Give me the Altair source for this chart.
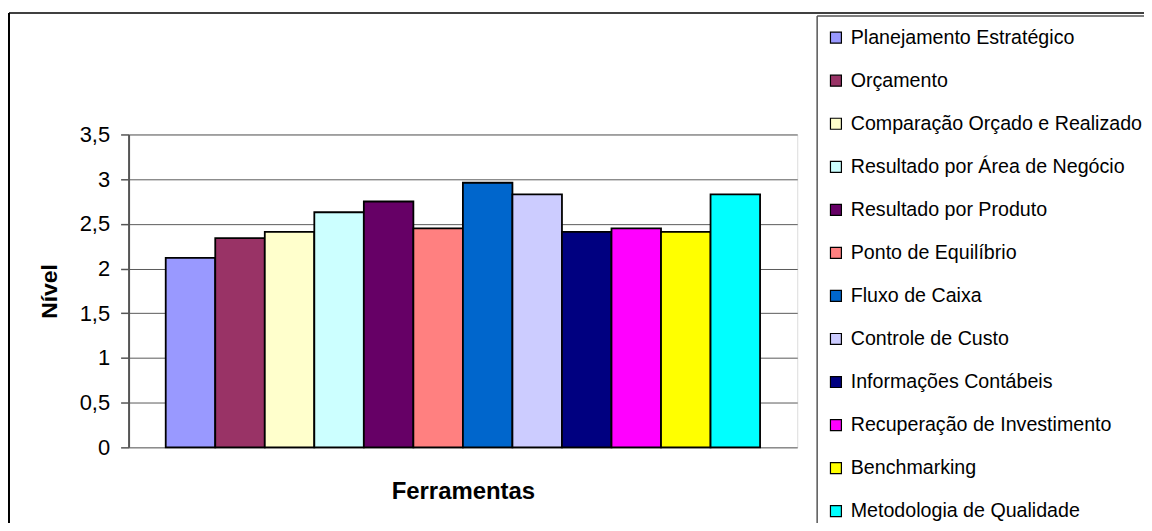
import altair as alt
import pandas as pd

categories = [
    "Planejamento Estratégico",
    "Orçamento",
    "Comparação Orçado e Realizado",
    "Resultado por Área de Negócio",
    "Resultado por Produto",
    "Ponto de Equilíbrio",
    "Fluxo de Caixa",
    "Controle de Custo",
    "Informações Contábeis",
    "Recuperação de Investimento",
    "Benchmarking",
    "Metodologia de Qualidade",
]
values = [2.12, 2.34, 2.41, 2.63, 2.75, 2.45, 2.96, 2.83, 2.41, 2.45, 2.41, 2.83]
colors = [
    "#9999FF", "#993366", "#FFFFCC", "#CCFFFF", "#660066", "#FF8080",
    "#0066CC", "#CCCCFF", "#000080", "#FF00FF", "#FFFF00", "#00FFFF",
]
y_ticks = [0, 0.5, 1, 1.5, 2, 2.5, 3, 3.5]

FONT = "Liberation Sans"
W, H = 671, 314

df = pd.DataFrame({"Ferramenta": categories, "Nivel": values})

bars = alt.Chart(df).mark_bar(stroke="black", strokeWidth=1.8).encode(
    x=alt.X(
        "Ferramenta:N",
        sort=categories,
        scale=alt.Scale(paddingInner=0, paddingOuter=0.75),
        axis=alt.Axis(
            labels=False, ticks=False, domain=False,
            title="Ferramentas", titleFont=FONT, titleFontSize=24,
            titleFontWeight="bold", titleColor="black", titlePadding=32,
        ),
    ),
    y=alt.Y(
        "Nivel:Q",
        scale=alt.Scale(domain=[0, 3.5], nice=False),
        axis=alt.Axis(
            values=y_ticks,
            labelExpr="replace(toString(datum.value), '.', ',')",
            labelFont=FONT, labelFontSize=22, labelColor="black", labelPadding=11,
            tickSize=8, tickColor="#555555", tickWidth=1.5,
            domainColor="#555555", domainWidth=2,
            grid=True, gridColor="#5a5a5a", gridWidth=1,
            title="Nível", titleFont=FONT, titleFontSize=23,
            titleFontWeight="bold", titleColor="black", titlePadding=18,
        ),
    ),
    color=alt.Color(
        "Ferramenta:N",
        sort=categories,
        scale=alt.Scale(domain=categories, range=colors),
        legend=alt.Legend(
            orient="none", legendX=700, legendY=-107, title=None,
            symbolType="square", symbolSize=121, symbolStrokeColor="black",
            symbolStrokeWidth=1.2, labelFont=FONT, labelFontSize=19.7,
            labelColor="black", labelOffset=5, labelLimit=400,
            rowPadding=22.2, padding=0,
        ),
    ),
)

one = pd.DataFrame({"k": [0]})
frame_top = alt.Chart(one).mark_rule(color="black", strokeWidth=1.5).encode(
    x=alt.value(-120), x2=alt.value(1200), y=alt.value(-122)
)
frame_left = alt.Chart(one).mark_rule(color="black", strokeWidth=2).encode(
    x=alt.value(-120), y=alt.value(-122), y2=alt.value(600)
)
leg_top = alt.Chart(one).mark_rule(color="#555555", strokeWidth=1.5).encode(
    x=alt.value(691), x2=alt.value(1200), y=alt.value(-119)
)
leg_left = alt.Chart(one).mark_rule(color="#555555", strokeWidth=1.5).encode(
    x=alt.value(691), y=alt.value(-119), y2=alt.value(600)
)

chart = alt.layer(bars, frame_top, frame_left, leg_top, leg_left).properties(
    width=W, height=H,
    padding={"left": 121, "top": 126, "right": 348, "bottom": 75},
    autosize=alt.AutoSizeParams(type="none"),
).configure_view(
    fill="#C0C0C0", stroke="#808080", strokeWidth=2
).configure(background="white")

chart.save("out.html", embed_options={"renderer": "svg", "actions": False})
